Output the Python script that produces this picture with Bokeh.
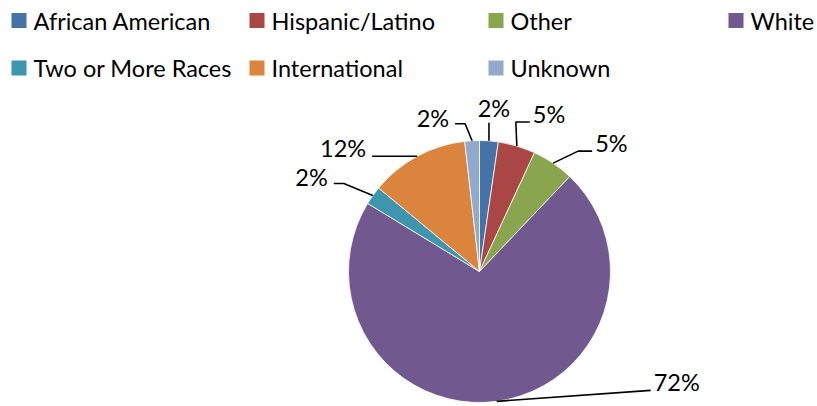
import math
from bokeh.plotting import figure
from bokeh.models import Range1d, ColumnDataSource
from bokeh.core.properties import value
from bokeh.embed import file_html
from bokeh.resources import INLINE

# ---- data ----
categories = ["African American", "Hispanic/Latino", "Other", "White",
              "Two or More Races", "International", "Unknown"]
shares = [2.3, 4.6, 5.2, 71.6, 2.3, 12.2, 1.8]
colors = ["#4572A7", "#AA4643", "#89A54E", "#71588F", "#3D96AE", "#DB843D", "#92A8CD"]

# ---- layout (pixels, y measured from top) ----
W, H = 817, 406
CX, CY, R = 479, 271, 131
FONT = "Lato"
FS = "23.5px"
# leader layout per slice: (elbow dx, elbow dy from anchor, horizontal length, side, text dy)
leader = [
    (0, -18, 0, "up", -15),
    (-1, -24, 14, "right", -8),
    (25, -12, 14, "right", -8),
    (154, -11, 0, "right", -8),
    (-29, -12, -10, "left", -7),
    (-2, 0, -43, "left", -8),
    (-7, -17, -10, "left", -6),
]
legend_cols = [11, 249, 488, 728]
legend_rows = [20, 67.5]
legend_layout = [(0, 0), (0, 1), (0, 2), (0, 3), (1, 0), (1, 1), (1, 2)]

def fy(py):
    return H - py

p = figure(width=W, height=H, output_backend="svg", toolbar_location=None,
           x_range=Range1d(0, W), y_range=Range1d(0, H), min_border=0)
p.axis.visible = False
p.grid.visible = False
p.outline_line_color = None
p.background_fill_color = "white"
p.border_fill_color = "white"

total = sum(shares)
cum = 0.0
starts, ends, mids = [], [], []
for s in shares:
    a0 = cum / total * 2 * math.pi
    cum += s
    a1 = cum / total * 2 * math.pi
    starts.append(math.pi / 2 - a0)
    ends.append(math.pi / 2 - a1)
    mids.append((a0 + a1) / 2)

src = ColumnDataSource(dict(start=starts, end=ends, color=colors))
p.wedge(x=CX, y=fy(CY), radius=R, start_angle="start", end_angle="end",
        direction="clock", fill_color="color", line_color="white", line_width=0.8,
        source=src)

# labels + leader lines
xs_list, ys_list = [], []
tx, ty, ttxt, talign = [], [], [], []
for i, (s, m) in enumerate(zip(shares, mids)):
    ax = CX + R * math.sin(m)
    ay = CY - R * math.cos(m)
    edx, edy, hl, side, tdy = leader[i]
    ex, ey = ax + edx, ay + edy
    hx = ex + hl
    xs_list.append([ax, ex, hx])
    ys_list.append([fy(ay), fy(ey), fy(ey)])
    lbl = f"{round(s / total * 100)}%"
    if side == "up":
        tx.append(ex + 5); ty.append(fy(ey + tdy)); talign.append("center")
    elif side == "right":
        tx.append(hx + 3); ty.append(fy(ey + tdy)); talign.append("left")
    else:
        tx.append(hx - 6); ty.append(fy(ey + tdy)); talign.append("right")
    ttxt.append(lbl)

p.multi_line(xs=xs_list, ys=ys_list, line_color="black", line_width=1.6)
p.text(x=tx, y=ty, text=ttxt, text_align=talign, text_baseline="middle",
       text_font=value(FONT), text_font_size=FS, text_color="black")

# legend
lx, ly, lc, ltx, lty = [], [], [], [], []
for cat, col, (r, c) in zip(categories, colors, legend_layout):
    x0 = legend_cols[c]
    yc = legend_rows[r]
    lx.append(x0 + 7.5); ly.append(fy(yc)); lc.append(col)
    ltx.append(x0 + 22); lty.append(fy(yc))
p.rect(x=lx, y=ly, width=15, height=15, fill_color=lc, line_color=None)
p.text(x=ltx, y=lty, text=categories, text_align="left", text_baseline="middle",
       text_font=value(FONT), text_font_size=FS, text_color="black")

open("out.html", "w").write(file_html(p, INLINE))
